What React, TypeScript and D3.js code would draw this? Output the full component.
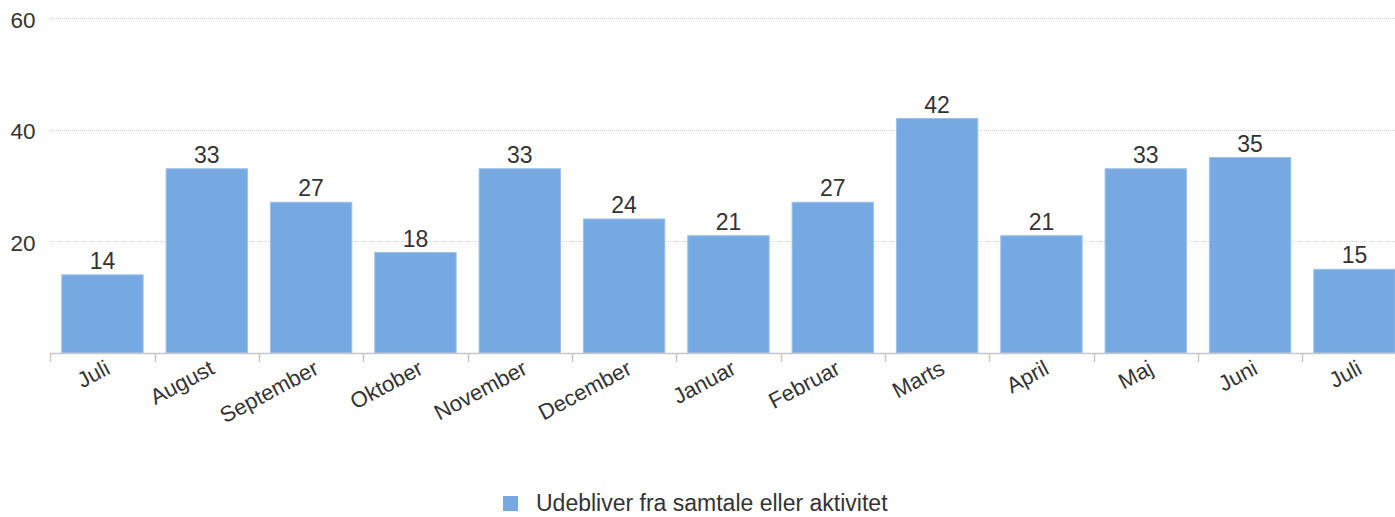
import React from "react";
import * as d3 from "d3";

const categories = ["Juli", "August", "September", "Oktober", "November", "December", "Januar", "Februar", "Marts", "April", "Maj", "Juni", "Juli"];
const values = [14, 33, 27, 18, 33, 24, 21, 27, 42, 21, 33, 35, 15];
const yTicks = [20, 40, 60];
const seriesName = "Udebliver fra samtale eller aktivitet";

const W = 1395;
const H = 517;
const FONT = "'Liberation Sans', Arial, sans-serif";
const BAR = "#76a9e1";

export default function App() {
  const x = d3.scaleBand<number>().domain(d3.range(categories.length)).range([50.3, 1406.6]).paddingInner(0.22).paddingOuter(0.11);
  const y = d3.scaleLinear().domain([0, 60]).range([353, 18]);
  const step = x.step();
  const x0 = 50.3;
  return (
    <svg width={W} height={H} style={{ position: "absolute", left: 0, top: 0, display: "block" }} fontFamily={FONT}>
      {yTicks.map((t) => (
        <g key={t}>
          <line x1={50} x2={W} y1={Math.round(y(t)) + 0.5} y2={Math.round(y(t)) + 0.5} stroke="#d4d4d4" strokeDasharray="1,1" />
          <text x={35.5} y={y(t) + 9.5} textAnchor="end" fontSize={22.5} fill="#333">{t}</text>
        </g>
      ))}
      {values.map((v, i) => (
        <g key={i}>
          <rect x={x(i)!} y={y(v)} width={x.bandwidth()} height={y(0) - y(v)} fill={BAR} stroke="#9cc2ec" strokeWidth={1} />
          <text x={x(i)! + x.bandwidth() / 2} y={y(v) - 6} textAnchor="middle" fontSize={23} fill="#333">{v}</text>
        </g>
      ))}
      <line x1={50} x2={W} y1={353.5} y2={353.5} stroke="#c8c8c8" strokeWidth={1.5} />
      {d3.range(categories.length + 1).map((i) => (
        <line key={i} x1={Math.round(x0 + i * step) + 0.5} x2={Math.round(x0 + i * step) + 0.5} y1={353} y2={362} stroke="#c8c8c8" strokeWidth={1.5} />
      ))}
      {categories.map((c, i) => {
        const cx = x(i)! + x.bandwidth() / 2 + 9;
        return (
          <text key={i} transform={`translate(${cx},${373}) rotate(-28)`} textAnchor="end" fontSize={22} fill="#333">{c}</text>
        );
      })}
      <rect x={503} y={496} width={15} height={15} fill={BAR} />
      <text x={536} y={511} fontSize={23} fill="#333">{seriesName}</text>
    </svg>
  );
}
